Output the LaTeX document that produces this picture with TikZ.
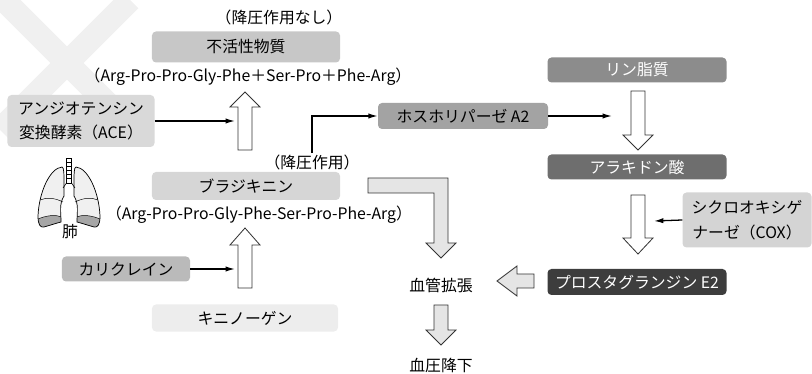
\documentclass[tikz,border=0pt]{standalone}
\usepackage{fontspec}
\setmainfont{Noto Sans CJK JP}
\usetikzlibrary{arrows.meta}

\definecolor{wmark}{gray}{0.94}
\definecolor{inactgray}{gray}{0.78}
\definecolor{acegray}{gray}{0.85}
\definecolor{bradygray}{gray}{0.84}
\definecolor{kalgray}{gray}{0.73}
\definecolor{kingray}{gray}{0.93}
\definecolor{phosgray}{gray}{0.64}
\definecolor{lipidgray}{gray}{0.55}
\definecolor{arachgray}{gray}{0.43}
\definecolor{coxgray}{gray}{0.83}
\definecolor{pgegray}{gray}{0.24}

\tikzset{
  box/.style={rounded corners=3.4pt, inner sep=0pt, align=center,
    font=\fontsize{13.5}{21}\selectfont},
  darkbox/.style={box, text=white},
  lbl/.style={inner sep=1pt, font=\fontsize{13.5}{16}\selectfont},
  link/.style={-{Latex[length=8pt,width=4.5pt]}, line width=1.1pt},
  hollow/.style={draw=black!80, line width=0.7pt, fill=white},
  shaded/.style={hollow, fill=black!10},
}

\begin{document}
\begin{tikzpicture}[x=0.03cm,y=-0.03cm]
\useasboundingbox (0,0) rectangle (812,374);
%
	\draw[wmark, line width=20pt] (0,-4) -- (130,126) (130,0) -- (0,130);
%
	% bradykinin column
	\node[lbl] (nohypo) at (279,17) {（降圧作用なし）};
	\node[box, fill=inactgray, minimum width=5.64cm, minimum height=0.93cm] (inact) at (246,47) {不活性物質};
	\node[lbl] (seqcut) at (248,77) {（Arg-Pro-Pro-Gly-Phe＋Ser-Pro＋Phe-Arg）};
	\node[box, fill=acegray, minimum width=4.41cm, minimum height=1.56cm] (ace) at (81,121) {アンジオテンシン\\変換酵素（ACE）};
	\node[lbl] (hypo) at (312,162) {（降圧作用）};
	\node[box, fill=bradygray, minimum width=5.64cm, minimum height=0.84cm] (brady) at (246,186) {ブラジキニン};
	\node[lbl] (seq) at (259,215) {（Arg-Pro-Pro-Gly-Phe-Ser-Pro-Phe-Arg）};
	\node[box, fill=kalgray, minimum width=3.84cm, minimum height=0.75cm] (kal) at (126,269) {カリクレイン};
	\node[box, fill=kingray, minimum width=5.58cm, minimum height=0.81cm] (kin) at (245,318) {キニノーゲン};
%
	% prostaglandin column
	\node[box, fill=phosgray, minimum width=5.1cm, minimum height=0.78cm] (phos) at (463,116) {ホスホリパーゼ A2};
	\node[darkbox, fill=lipidgray, minimum width=5.37cm, minimum height=0.75cm] (lipid) at (637,70) {リン脂質};
	\node[darkbox, fill=arachgray, minimum width=5.37cm, minimum height=0.75cm] (arach) at (637,167) {アラキドン酸};
	\node[box, fill=coxgray, minimum width=3.87cm, minimum height=1.65cm] (cox) at (747,220) {シクロオキシゲ\\ナーゼ（COX）};
	\node[darkbox, fill=pgegray, minimum width=5.37cm, minimum height=0.78cm] (pge) at (637,282) {プロスタグランジン E2};
	\node[lbl] (vaso) at (441,285) {血管拡張};
	\node[lbl] (bpdown) at (441,365) {血圧降下};
%
	% block arrows
	\draw[hollow] (238,150) -- (238,107) -- (230,107) -- (245,92) -- (260,107) -- (252,107) -- (252,150) -- cycle;
	\draw[hollow] (238,288) -- (238,245) -- (230,245) -- (245,228) -- (260,245) -- (252,245) -- (252,288) -- cycle;
	\draw[hollow] (631,91) -- (645,91) -- (645,135) -- (653,135) -- (638,150) -- (623,135) -- (631,135) -- cycle;
	\draw[hollow] (631,195) -- (645,195) -- (645,238) -- (653,238) -- (638,254) -- (623,238) -- (631,238) -- cycle;
	\draw[shaded] (368,178) -- (448,178) -- (448,243) -- (456,243) -- (441,258) -- (426,243) -- (434,243) -- (434,193) -- (368,193) -- cycle;
	\draw[shaded] (534,274) -- (517,274) -- (517,266) -- (497,281) -- (517,296) -- (517,288) -- (534,288) -- cycle;
	\draw[shaded] (434,305) -- (448,305) -- (448,330) -- (456,330) -- (441,345) -- (426,330) -- (434,330) -- cycle;
%
	% thin arrows
	\coordinate (upa) at (235,121);
	\coordinate (upb) at (235,269);
	\coordinate (downa) at (612,116);
	\coordinate (downb) at (654,221);
	\draw[link] (ace.east) -- (upa);
	\draw[link] (kal.east) -- (upb);
	\draw[link] (hypo.north) |- (phos.west);
	\draw[link] (phos.east) -- (downa);
	\draw[link] (cox.west) -- (downb);
%
	% lungs
	\foreach \side in {1,-1}{
	\begin{scope}[shift={(69,0)},xscale=\side]
		\fill[black!6] (-7,167) .. controls (-19,168) and (-30,192) .. (-31,216) .. controls (-31,224) and (-29,228) .. (-25,227) .. controls (-18,225) and (-12,223) .. (-8,222) .. controls (-8,212) and (-10,204) .. (-5,196) -- (-5,184) .. controls (-5,174) and (-5,167) .. (-7,167) -- cycle;
		\fill[black!35] (-31,219) .. controls (-24,216) and (-14,214) .. (-8,217) -- (-8,222) .. controls (-12,223) and (-18,225) .. (-25,227) .. controls (-29,228) and (-31,224) .. (-31,219);
		\draw[line width=0.6pt] (-7,167) .. controls (-19,168) and (-30,192) .. (-31,216) .. controls (-31,224) and (-29,228) .. (-25,227) .. controls (-18,225) and (-12,223) .. (-8,222) .. controls (-8,212) and (-10,204) .. (-5,196) -- (-5,184) .. controls (-5,174) and (-5,167) .. (-7,167) -- cycle;
		\draw[line width=0.4pt] (-31,219) .. controls (-24,216) and (-14,214) .. (-8,217);
		\draw[line width=0.4pt] (-29,200) .. controls (-22,197) and (-14,198) .. (-6,202);
		\draw[line width=0.5pt] (-2.5,183) -- (-6,188);
	\end{scope}}
	\draw[line width=0.5pt, fill=white] (66.5,158) rectangle (71.5,183);
	\foreach \ring in {162,166,...,180}
		\draw[line width=0.3pt] (66.5,\ring) -- (71.5,\ring);
	\node[lbl] (lung) at (70,232) {肺};
\end{tikzpicture}
\end{document}
